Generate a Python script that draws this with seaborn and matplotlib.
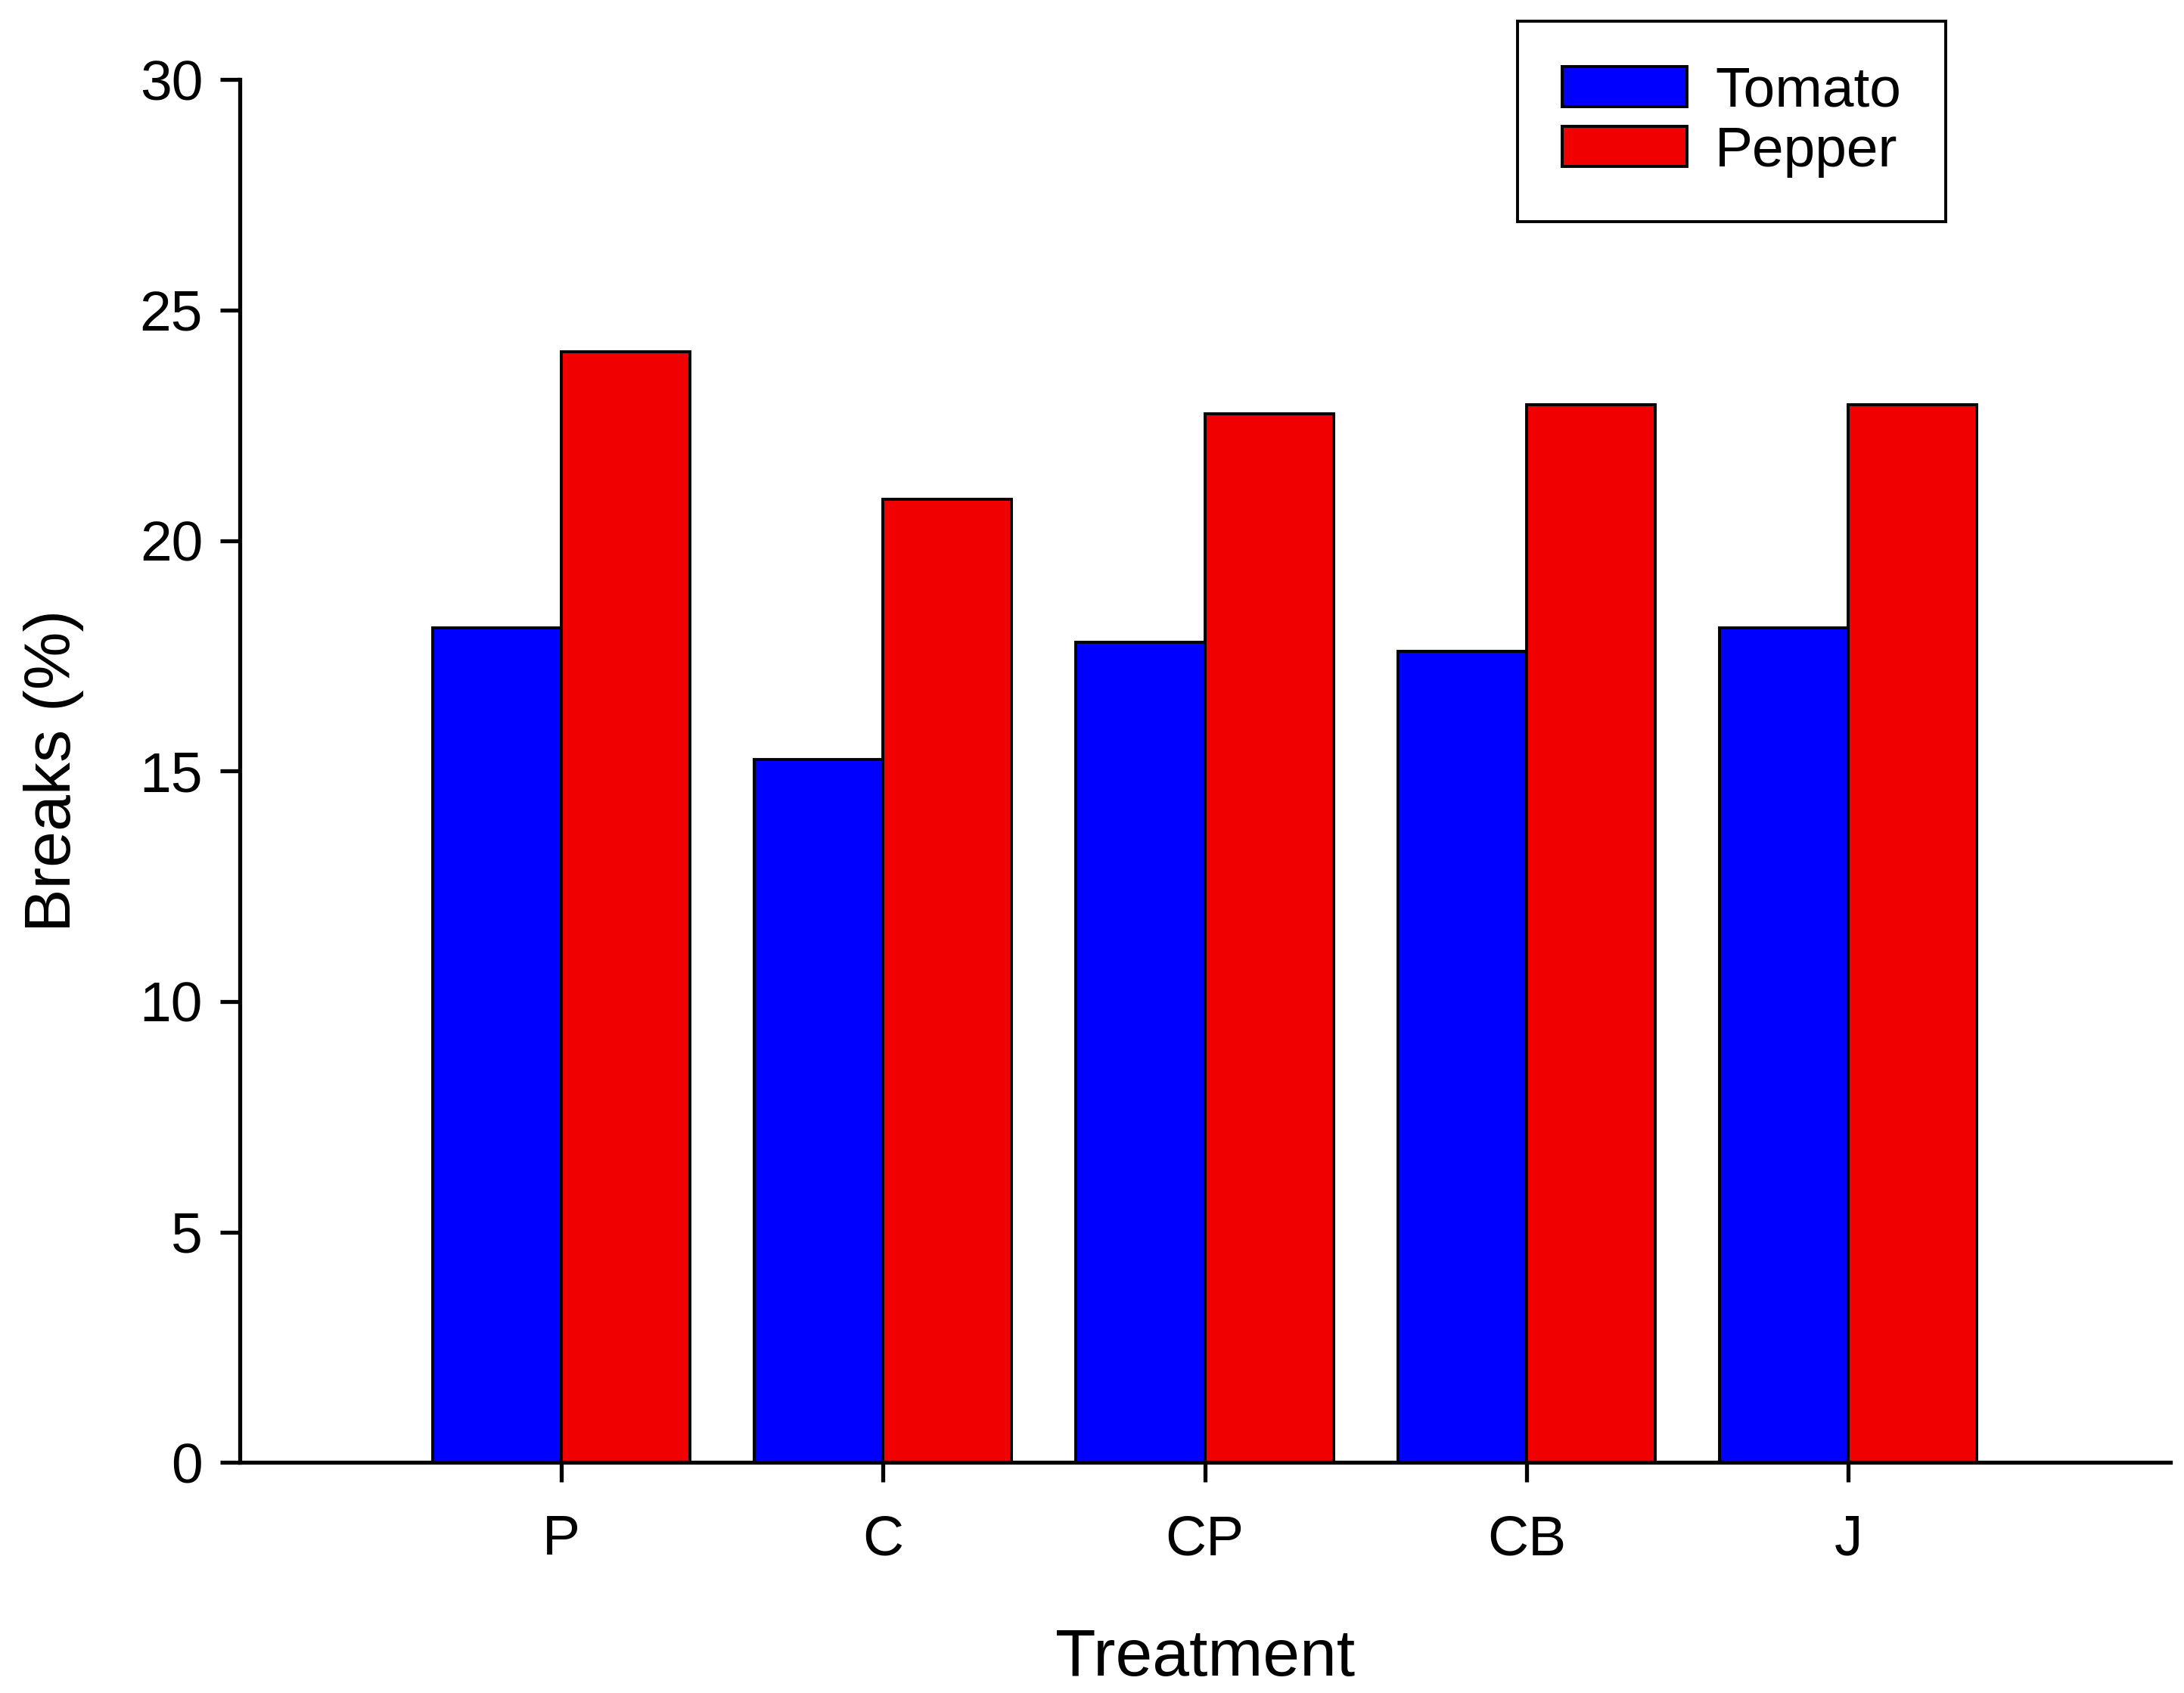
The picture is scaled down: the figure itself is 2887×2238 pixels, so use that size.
import matplotlib
matplotlib.use("Agg")
import matplotlib.pyplot as plt
import seaborn as sns
import pandas as pd

treatments = ["P", "C", "CP", "CB", "J"]
tomato = [18.1, 15.25, 17.8, 17.6, 18.1]
pepper = [24.1, 20.9, 22.75, 22.95, 22.95]
series_names = ["Tomato", "Pepper"]
colors = ["#0000ff", "#f00000"]
yticks = [0, 5, 10, 15, 20, 25, 30]

df = pd.DataFrame({
    "Treatment": treatments * 2,
    "Breaks": tomato + pepper,
    "Crop": [series_names[0]] * len(treatments) + [series_names[1]] * len(treatments),
})

sns.set_style("ticks")
plt.rcParams["font.family"] = ["Liberation Sans", "DejaVu Sans"]
plt.rcParams["text.color"] = "black"
plt.rcParams["axes.labelcolor"] = "black"

fig = plt.figure(figsize=(14.435, 11.19), dpi=200)
ax = fig.add_axes([0.1097, 0.1362, 0.8839, 0.8168])

sns.barplot(data=df, x="Treatment", y="Breaks", hue="Crop", order=treatments,
            hue_order=series_names, palette=colors, saturation=1, width=0.8,
            edgecolor="black", linewidth=1.4, ax=ax)

ax.set_xlim(-1, 5)
ax.set_ylim(0, 30)
ax.set_yticks(yticks)
ax.set_yticklabels([str(v) for v in yticks])

for s in ["top", "right"]:
    ax.spines[s].set_visible(False)
for s in ["left", "bottom"]:
    ax.spines[s].set_linewidth(1.9)
    ax.spines[s].set_color("black")

ax.tick_params(axis="both", direction="out", length=9.5, width=1.9, colors="black",
               labelcolor="black", labelsize=27)
ax.tick_params(axis="x", pad=15)
ax.tick_params(axis="y", pad=8)

ax.set_xlabel("Treatment", fontsize=31.5, labelpad=29.5, color="black")
ax.set_ylabel("Breaks (%)", fontsize=31, labelpad=26.5, color="black")

leg = ax.legend(loc="upper left", bbox_to_anchor=(0.662, 1.042), borderaxespad=0,
                fontsize=27, frameon=True, fancybox=False, handlelength=2.2,
                handleheight=0.72, labelspacing=0.13, handletextpad=0.5,
                borderpad=0.78, title=None)
for t in leg.get_texts():
    t.set_color("black")
frame = leg.get_frame()
frame.set_edgecolor("black")
frame.set_linewidth(1.4)
frame.set_alpha(1)

fig.savefig("out.png", dpi=200)
